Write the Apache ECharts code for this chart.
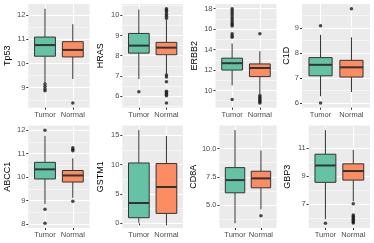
<!DOCTYPE html>
<html><head><meta charset="utf-8">
<script src="https://cdn.jsdelivr.net/npm/echarts@6/dist/echarts.min.js"></script>
<style>html,body{margin:0;padding:0;background:#fff}#c{width:374px;height:243px}</style>
</head><body><div id="c"></div>
<script>
// ---- data ----
const genes = ['Tp53', 'HRAS', 'ERBB2', 'C1D', 'ABCC1', 'GSTM1', 'CD8A', 'GBP3'];
const groups = ['Tumor', 'Normal'];
// [lower whisker, Q1, median, Q3, upper whisker]
const tumorStats = [
  [9.2, 10.3, 10.76, 11.09, 12.26],
  [6.85, 8.13, 8.5, 9.1, 10.28],
  [10.5, 12.0, 12.67, 13.16, 14.6],
  [6.27, 7.09, 7.53, 7.82, 8.73],
  [8.85, 9.92, 10.33, 10.63, 11.76],
  [0.1, 0.96, 3.47, 10.3, 15.9],
  [3.41, 6.1, 7.22, 8.32, 11.62],
  [5.9, 8.55, 9.76, 10.57, 12.3]
];
const normalStats = [
  [9.36, 10.27, 10.56, 10.9, 11.62],
  [7.1, 8.05, 8.4, 8.66, 9.8],
  [9.6, 11.36, 12.2, 12.6, 13.85],
  [6.44, 7.04, 7.43, 7.71, 8.63],
  [9.12, 9.79, 10.07, 10.28, 10.8],
  [0.0, 1.7, 6.2, 10.2, 14.9],
  [4.64, 6.54, 7.37, 8.0, 9.83],
  [7.19, 8.71, 9.36, 9.88, 10.88]
];
const tumorOutliers = [
  [9.15, 9.05, 8.95, 8.88],
  [6.23],
  [18.0, 17.8, 17.6, 17.4, 17.2, 17.0, 16.8, 16.6, 16.45, 16.3, 15.55, 15.35, 15.2, 9.13],
  [9.1, 6.0],
  [12.0, 8.63, 8.03],
  [],
  [],
  [5.6]
];
const normalOutliers = [
  [8.37],
  [10.32, 10.25, 10.16, 10.05, 9.95, 9.85, 7.05, 6.95, 6.72, 6.25, 6.18, 6.1, 6.03, 5.67],
  [15.55, 9.5, 9.35, 9.2, 9.05, 8.9, 8.78],
  [9.78],
  [11.25, 11.18, 11.12, 8.97],
  [],
  [4.07],
  [7.0, 6.2, 6.1, 6.0, 5.9, 5.8, 5.7, 5.62]
];
const yTicks = [
  [9, 10, 11, 12],
  [6, 7, 8, 9, 10],
  [10, 12, 14, 16, 18],
  [6, 7, 8, 9],
  [8, 9, 10, 11, 12],
  [0, 5, 10, 15],
  [5.0, 7.5, 10.0],
  [7, 9, 11]
];
const tickDecimals = [0, 0, 0, 0, 0, 0, 1, 0];
const fills = ['#66C2A5', '#FC8D62'];

// ---- layout ----
const FONT = 'Liberation Sans, Arial, Helvetica, sans-serif';
const cellLeft = [0, 93.5, 187, 280.5];
const plotOffset = [28.3, 28.8, 28.5, 21.5, 28.3, 28.8, 32.5, 28.2];
const rowTop = [4, 125.5];
const rowBottom = [107.7, 228];

const chart = echarts.init(document.getElementById('c'), null, {renderer: 'canvas'});

const grid = [], xAxis = [], yAxis = [], series = [];

function renderBox(params, api) {
  const x = api.value(0);
  const pLo = api.coord([x, api.value(1)]);
  const pQ1 = api.coord([x, api.value(2)]);
  const pMed = api.coord([x, api.value(3)]);
  const pQ3 = api.coord([x, api.value(4)]);
  const pHi = api.coord([x, api.value(5)]);
  const half = api.size([0.75, 0])[0] / 2;
  const cx = pMed[0];
  const fill = fills[Math.round(x) - 1];
  const stroke = '#333333';
  return {
    type: 'group',
    children: [
      {type: 'line', shape: {x1: cx, y1: pHi[1], x2: cx, y2: pQ3[1]}, style: {stroke, lineWidth: 1}},
      {type: 'line', shape: {x1: cx, y1: pQ1[1], x2: cx, y2: pLo[1]}, style: {stroke, lineWidth: 1}},
      {type: 'rect', shape: {x: cx - half, y: pQ3[1], width: 2 * half, height: pQ1[1] - pQ3[1]}, style: {fill, stroke, lineWidth: 1}},
      {type: 'line', shape: {x1: cx - half, y1: pMed[1], x2: cx + half, y2: pMed[1]}, style: {stroke, lineWidth: 2}}
    ]
  };
}

genes.forEach((g, i) => {
  const col = i % 4, row = Math.floor(i / 4);
  const left = cellLeft[col] + plotOffset[i];
  const right = cellLeft[col] + 93.5 - 4;
  const top = rowTop[row], bottom = rowBottom[row];
  grid.push({left, top, width: right - left, height: bottom - top, show: true, backgroundColor: '#EBEBEB', borderWidth: 0});

  const all = tumorStats[i].concat(normalStats[i], tumorOutliers[i], normalOutliers[i]);
  const dmin = Math.min(...all), dmax = Math.max(...all);
  const pad = (dmax - dmin) * 0.05;
  const ymin = dmin - pad, ymax = dmax + pad;
  const ticks = yTicks[i];
  const step = ticks[1] - ticks[0];
  const minors = [];
  for (let v = ticks[0] - step / 2; v <= ticks[ticks.length - 1] + step / 2 + 1e-9; v += step) {
    if (v >= ymin && v <= ymax) minors.push(v);
  }

  xAxis.push({
    gridIndex: i, type: 'value', min: 0.4, max: 2.6,
    axisLine: {show: false},
    axisTick: {show: true, customValues: [1, 2], length: 2, lineStyle: {color: '#333333', width: 1}},
    axisLabel: {customValues: [1, 2], formatter: v => groups[Math.round(v) - 1], fontSize: 7.5, color: '#4D4D4D', margin: 3, fontFamily: FONT},
    splitLine: {show: true, lineStyle: {color: '#FFFFFF', width: 1}}
  });
  yAxis.push({
    gridIndex: i, type: 'value', min: ymin, max: ymax, position: 'left',
    axisLine: {show: false},
    axisTick: {show: true, customValues: ticks, length: 2, lineStyle: {color: '#333333', width: 1}},
    axisLabel: {customValues: ticks, formatter: v => v.toFixed(tickDecimals[i]), fontSize: 7.5, color: '#4D4D4D', margin: 3, fontFamily: FONT},
    splitLine: {show: true, lineStyle: {color: '#FFFFFF', width: 1}},
    name: g, nameLocation: 'middle',
    nameGap: (left - (cellLeft[col] + 7.5)) - 4.5,
    nameTextStyle: {fontSize: 9, color: '#000000', fontFamily: FONT}
  });
  yAxis.push({
    gridIndex: i, type: 'value', min: ymin, max: ymax, position: 'left',
    axisLine: {show: false},
    axisTick: {show: false, customValues: minors},
    axisLabel: {show: false, customValues: minors},
    splitLine: {show: true, lineStyle: {color: '#FFFFFF', width: 0.5}}
  });

  series.push({
    type: 'scatter', xAxisIndex: i, yAxisIndex: 2 * i,
    data: tumorOutliers[i].map(v => [1, v]).concat(normalOutliers[i].map(v => [2, v])),
    symbolSize: 3.5, itemStyle: {color: '#1A1A1A'}, silent: true, z: 2
  });
  series.push({
    type: 'custom', xAxisIndex: i, yAxisIndex: 2 * i,
    data: [[1].concat(tumorStats[i]), [2].concat(normalStats[i])],
    encode: {x: 0, y: [1, 2, 3, 4, 5]},
    renderItem: renderBox, silent: true, z: 3
  });
});

chart.setOption({animation: false, grid, xAxis, yAxis, series});
</script>
</body></html>
